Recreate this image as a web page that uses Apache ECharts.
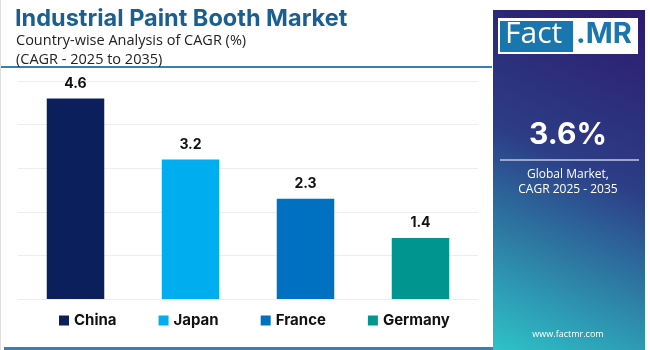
<!DOCTYPE html>
<html>
<head>
<meta charset="utf-8">
<script src="https://cdn.jsdelivr.net/npm/echarts@6/dist/echarts.min.js"></script>
<style>
  html, body { margin: 0; padding: 0; background: #fff; }
  #chart { width: 650px; height: 350px; }
</style>
</head>
<body>
<div id="chart"></div>
<script>
// data
var countries = ['China', 'Japan', 'France', 'Germany']
var cagr = [4.6, 3.2, 2.3, 1.4]
var barColors = ['#0b1f5c', '#00aeef', '#0070c0', '#00968f']
var globalCagr = '3.6%'

var chart = echarts.init(document.getElementById('chart'))

// one series per country so each gets its own legend entry
var series = countries.map(function (name, i) {
  var vals = countries.map(function (c, j) { return j === i ? cagr[i] : '-' })
  return {
    name: name,
    type: 'bar',
    stack: 'one',
    barWidth: '50%',
    data: vals,
    itemStyle: { color: barColors[i] },
    label: {
      show: true,
      position: 'top',
      distance: 8,
      color: '#111',
      fontWeight: 'bold',
      fontSize: 14,
      fontFamily: 'Inter'
    }
  }
})

chart.setOption({
  animation: false,
  title: [{
    text: 'Industrial Paint Booth Market',
    left: 10,
    top: 2,
    textStyle: { fontSize: 23.5, fontWeight: 'bold', color: '#1a5f91', fontFamily: 'Inter' }
  }, {
    text: 'Country-wise Analysis of CAGR (%)\n(CAGR - 2025 to 2035)',
    left: 11,
    top: 26,
    textStyle: { fontSize: 14.5, fontWeight: 'normal', color: '#222', fontFamily: 'Open Sans', lineHeight: 19 }
  }],
  legend: {
    data: countries,
    bottom: 17,
    left: 54,
    itemGap: 42,
    itemWidth: 10,
    itemHeight: 10,
    icon: 'rect',
    textStyle: { fontSize: 15, fontWeight: 'bold', color: '#111', fontFamily: 'Inter' }
  },
  grid: { left: 18, right: 172, top: 81, bottom: 51 },
  xAxis: {
    type: 'category',
    data: countries,
    axisLine: { show: false },
    axisTick: { show: false },
    axisLabel: { show: false }
  },
  yAxis: {
    type: 'value',
    min: 0,
    max: 5,
    interval: 1,
    axisLabel: { show: false },
    splitLine: { lineStyle: { color: '#eeeeee' } }
  },
  series: series,
  graphic: [
    { type: 'rect', shape: { x: 0, y: 66, width: 492, height: 2 }, style: { fill: '#3a7fb0' } },
    { type: 'rect', shape: { x: 4, y: 347, width: 490, height: 3 }, style: { fill: '#3a7fb0' } },
    { type: 'rect', shape: { x: 0, y: 0, width: 1, height: 350 }, style: { fill: '#dddddd' } },
    {
      type: 'rect',
      shape: { x: 493, y: 10, width: 152, height: 340 },
      style: {
        fill: new echarts.graphic.LinearGradient(1, 0, 0, 1, [
          { offset: 0, color: '#2d1a6e' },
          { offset: 0.45, color: '#2c3d86' },
          { offset: 1, color: '#2ec3c7' }
        ])
      }
    },
    { type: 'rect', shape: { x: 498, y: 18, width: 140, height: 36 }, style: { fill: '#ffffff' } },
    { type: 'rect', shape: { x: 500, y: 21, width: 73, height: 31 }, style: { fill: '#1a77ad' } },
    {
      type: 'text', left: 505, top: 19,
      style: { text: 'Fact', fill: '#ffffff', fontSize: 30, fontFamily: 'Open Sans', fontWeight: 'normal' }
    },
    {
      type: 'text', left: 576, top: 20,
      style: { text: '.MR', fill: '#1a77ad', fontSize: 29, fontFamily: 'Inter', fontWeight: 'bold' }
    },
    {
      type: 'text', x: 568, y: 135,
      style: { text: globalCagr, fill: '#ffffff', fontSize: 30, fontWeight: 'bold', fontFamily: 'Inter', align: 'center', verticalAlign: 'middle' }
    },
    { type: 'rect', shape: { x: 500, y: 159, width: 139, height: 2 }, style: { fill: '#9aa6d0' } },
    {
      type: 'text', x: 568, y: 182,
      style: { text: 'Global Market,\nCAGR 2025 - 2035', fill: '#ffffff', fontSize: 12, lineHeight: 15, fontFamily: 'Open Sans', align: 'center', verticalAlign: 'middle' }
    },
    {
      type: 'text', x: 568, y: 334,
      style: { text: 'www.factmr.com', fill: '#ffffff', fontSize: 9, fontFamily: 'Open Sans', align: 'center', verticalAlign: 'middle' }
    }
  ]
})
</script>
</body>
</html>
